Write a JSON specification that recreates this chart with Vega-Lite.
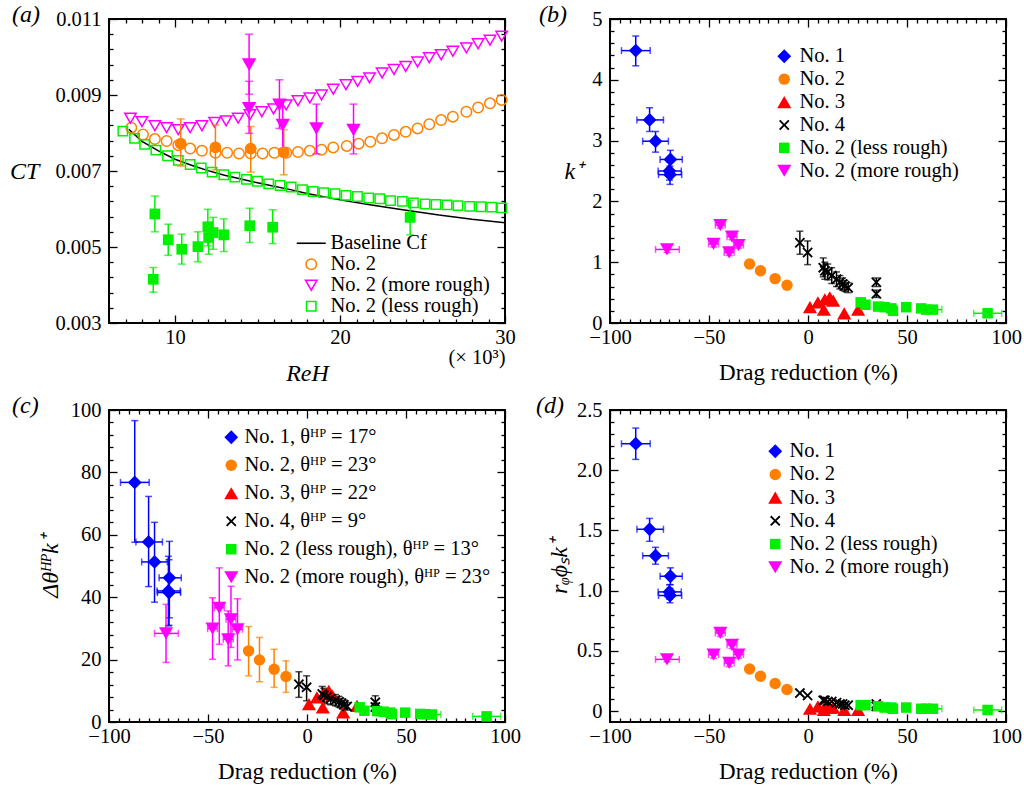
{
"$schema": "https://vega.github.io/schema/vega-lite/v6.json",
"background": "white",
"padding": {"left": 8, "top": 2, "right": 5, "bottom": 0},
"columns": 2,
"spacing": {"row": 79, "column": 105},
"bounds": "flush",
"align": "all",
"resolve": {"scale": {"x": "independent", "y": "independent", "color": "independent", "shape": "independent", "size": "independent"}, "axis": {"x": "independent", "y": "independent"}, "legend": {"color": "independent", "shape": "independent", "size": "independent"}},
"config": {
  "font": "Liberation Serif",
  "view": {"stroke": "black", "strokeWidth": 2},
  "axis": {"labelFont": "Liberation Serif", "labelFontSize": 20.5, "labelColor": "black", "titleFont": "Liberation Serif", "titleFontSize": 23, "titleFontWeight": "normal", "titleColor": "black", "domain": false, "grid": false, "tickColor": "black", "tickWidth": 1.3, "labelFlush": false, "labelOverlap": false, "labelBound": false},
  "legend": {"labelFont": "Liberation Serif", "labelFontSize": 20.5, "labelColor": "black", "symbolSize": 150, "labelLimit": 500},
  "title": {"font": "Liberation Serif", "fontSize": 24, "fontStyle": "italic", "fontWeight": "normal", "color": "black", "anchor": "start", "frame": "group", "offset": 0}
},
"datasets": {
  "cfline": [
    {"x": 7.2, "y": 0.0081}, {"x": 8, "y": 0.00778}, {"x": 9, "y": 0.00753}, {"x": 10, "y": 0.00731}, {"x": 11, "y": 0.00715}, {"x": 12, "y": 0.00701}, {"x": 13, "y": 0.00689}, {"x": 14, "y": 0.00679}, {"x": 15, "y": 0.00669}, {"x": 16, "y": 0.0066}, {"x": 17, "y": 0.00651}, {"x": 18, "y": 0.00641}, {"x": 19, "y": 0.00632}, {"x": 20, "y": 0.00624}, {"x": 22, "y": 0.0061}, {"x": 24, "y": 0.00597}, {"x": 26, "y": 0.00584}, {"x": 28, "y": 0.00573}, {"x": 30, "y": 0.00564}
  ],
  "simA": [
    {"s": "No. 2", "x": 7.35, "y": 0.00814}, {"s": "No. 2", "x": 8.06, "y": 0.00796}, {"s": "No. 2", "x": 8.78, "y": 0.00784}, {"s": "No. 2", "x": 9.49, "y": 0.00779}, {"s": "No. 2", "x": 10.2, "y": 0.00768}, {"s": "No. 2", "x": 10.92, "y": 0.00759}, {"s": "No. 2", "x": 11.63, "y": 0.00753}, {"s": "No. 2", "x": 12.45, "y": 0.00748}, {"s": "No. 2", "x": 13.16, "y": 0.00748}, {"s": "No. 2", "x": 13.88, "y": 0.00746}, {"s": "No. 2", "x": 14.59, "y": 0.00746}, {"s": "No. 2", "x": 15.31, "y": 0.00746}, {"s": "No. 2", "x": 16.02, "y": 0.00748}, {"s": "No. 2", "x": 16.74, "y": 0.00748}, {"s": "No. 2", "x": 17.45, "y": 0.0075}, {"s": "No. 2", "x": 18.17, "y": 0.00753}, {"s": "No. 2", "x": 18.88, "y": 0.00756}, {"s": "No. 2", "x": 19.59, "y": 0.00762}, {"s": "No. 2", "x": 20.41, "y": 0.00766}, {"s": "No. 2", "x": 21.13, "y": 0.00772}, {"s": "No. 2", "x": 21.84, "y": 0.00777}, {"s": "No. 2", "x": 22.55, "y": 0.00786}, {"s": "No. 2", "x": 23.27, "y": 0.00795}, {"s": "No. 2", "x": 23.98, "y": 0.00803}, {"s": "No. 2", "x": 24.7, "y": 0.00812}, {"s": "No. 2", "x": 25.41, "y": 0.00823}, {"s": "No. 2", "x": 26.13, "y": 0.00834}, {"s": "No. 2", "x": 26.84, "y": 0.00843}, {"s": "No. 2", "x": 27.66, "y": 0.00856}, {"s": "No. 2", "x": 28.37, "y": 0.00867}, {"s": "No. 2", "x": 29.09, "y": 0.00878}, {"s": "No. 2", "x": 29.8, "y": 0.00887},
    {"s": "No. 2 (more rough)", "x": 7.3, "y": 0.00839}, {"s": "No. 2 (more rough)", "x": 8.0, "y": 0.0083}, {"s": "No. 2 (more rough)", "x": 8.78, "y": 0.00819}, {"s": "No. 2 (more rough)", "x": 9.49, "y": 0.00814}, {"s": "No. 2 (more rough)", "x": 10.2, "y": 0.00809}, {"s": "No. 2 (more rough)", "x": 10.92, "y": 0.00814}, {"s": "No. 2 (more rough)", "x": 11.63, "y": 0.00819}, {"s": "No. 2 (more rough)", "x": 12.4, "y": 0.00828}, {"s": "No. 2 (more rough)", "x": 13.1, "y": 0.00832}, {"s": "No. 2 (more rough)", "x": 13.83, "y": 0.00839}, {"s": "No. 2 (more rough)", "x": 14.54, "y": 0.00848}, {"s": "No. 2 (more rough)", "x": 15.26, "y": 0.00856}, {"s": "No. 2 (more rough)", "x": 15.97, "y": 0.00863}, {"s": "No. 2 (more rough)", "x": 16.74, "y": 0.00874}, {"s": "No. 2 (more rough)", "x": 17.45, "y": 0.00885}, {"s": "No. 2 (more rough)", "x": 18.17, "y": 0.00892}, {"s": "No. 2 (more rough)", "x": 18.88, "y": 0.009}, {"s": "No. 2 (more rough)", "x": 19.59, "y": 0.00915}, {"s": "No. 2 (more rough)", "x": 20.36, "y": 0.00927}, {"s": "No. 2 (more rough)", "x": 21.07, "y": 0.00936}, {"s": "No. 2 (more rough)", "x": 21.79, "y": 0.00945}, {"s": "No. 2 (more rough)", "x": 22.55, "y": 0.00958}, {"s": "No. 2 (more rough)", "x": 23.27, "y": 0.00967}, {"s": "No. 2 (more rough)", "x": 23.98, "y": 0.00975}, {"s": "No. 2 (more rough)", "x": 24.7, "y": 0.00987}, {"s": "No. 2 (more rough)", "x": 25.41, "y": 0.00998}, {"s": "No. 2 (more rough)", "x": 26.13, "y": 0.01006}, {"s": "No. 2 (more rough)", "x": 26.84, "y": 0.01015}, {"s": "No. 2 (more rough)", "x": 27.66, "y": 0.01024}, {"s": "No. 2 (more rough)", "x": 28.37, "y": 0.01035}, {"s": "No. 2 (more rough)", "x": 29.09, "y": 0.01044}, {"s": "No. 2 (more rough)", "x": 29.8, "y": 0.01055},
    {"s": "No. 2 (less rough)", "x": 6.84, "y": 0.00805}, {"s": "No. 2 (less rough)", "x": 7.55, "y": 0.00786}, {"s": "No. 2 (less rough)", "x": 8.16, "y": 0.0077}, {"s": "No. 2 (less rough)", "x": 8.84, "y": 0.00755}, {"s": "No. 2 (less rough)", "x": 9.55, "y": 0.0074}, {"s": "No. 2 (less rough)", "x": 10.2, "y": 0.00728}, {"s": "No. 2 (less rough)", "x": 10.92, "y": 0.00717}, {"s": "No. 2 (less rough)", "x": 11.59, "y": 0.00708}, {"s": "No. 2 (less rough)", "x": 12.25, "y": 0.00697}, {"s": "No. 2 (less rough)", "x": 12.96, "y": 0.0069}, {"s": "No. 2 (less rough)", "x": 13.63, "y": 0.00684}, {"s": "No. 2 (less rough)", "x": 14.33, "y": 0.00678}, {"s": "No. 2 (less rough)", "x": 15.0, "y": 0.00673}, {"s": "No. 2 (less rough)", "x": 15.68, "y": 0.00666}, {"s": "No. 2 (less rough)", "x": 16.37, "y": 0.00662}, {"s": "No. 2 (less rough)", "x": 17.04, "y": 0.00658}, {"s": "No. 2 (less rough)", "x": 17.72, "y": 0.00651}, {"s": "No. 2 (less rough)", "x": 18.37, "y": 0.00646}, {"s": "No. 2 (less rough)", "x": 19.02, "y": 0.00643}, {"s": "No. 2 (less rough)", "x": 19.7, "y": 0.0064}, {"s": "No. 2 (less rough)", "x": 20.37, "y": 0.00636}, {"s": "No. 2 (less rough)", "x": 21.06, "y": 0.00633}, {"s": "No. 2 (less rough)", "x": 21.74, "y": 0.00629}, {"s": "No. 2 (less rough)", "x": 22.41, "y": 0.00627}, {"s": "No. 2 (less rough)", "x": 23.06, "y": 0.00622}, {"s": "No. 2 (less rough)", "x": 23.78, "y": 0.0062}, {"s": "No. 2 (less rough)", "x": 24.45, "y": 0.00616}, {"s": "No. 2 (less rough)", "x": 25.15, "y": 0.00613}, {"s": "No. 2 (less rough)", "x": 25.82, "y": 0.00612}, {"s": "No. 2 (less rough)", "x": 26.49, "y": 0.00611}, {"s": "No. 2 (less rough)", "x": 27.15, "y": 0.00609}, {"s": "No. 2 (less rough)", "x": 27.86, "y": 0.00607}, {"s": "No. 2 (less rough)", "x": 28.54, "y": 0.00606}, {"s": "No. 2 (less rough)", "x": 29.19, "y": 0.00605}, {"s": "No. 2 (less rough)", "x": 29.8, "y": 0.00603}
  ],
  "expA": [
    {"s": "No. 2", "x": 10.35, "y": 0.00772, "lo": 0.00713, "hi": 0.00837}, {"s": "No. 2", "x": 12.45, "y": 0.00762, "lo": 0.00703, "hi": 0.00821}, {"s": "No. 2", "x": 14.59, "y": 0.00759, "lo": 0.00697, "hi": 0.00817}, {"s": "No. 2", "x": 16.59, "y": 0.00749, "lo": 0.0069, "hi": 0.00809},
    {"s": "No. 2 (more rough)", "x": 14.49, "y": 0.0098, "lo": 0.00902, "hi": 0.0106}, {"s": "No. 2 (more rough)", "x": 14.49, "y": 0.00865, "lo": 0.00799, "hi": 0.00936}, {"s": "No. 2 (more rough)", "x": 16.33, "y": 0.00874, "lo": 0.00812, "hi": 0.0094}, {"s": "No. 2 (more rough)", "x": 16.53, "y": 0.00821, "lo": 0.00759, "hi": 0.00887}, {"s": "No. 2 (more rough)", "x": 18.57, "y": 0.00812, "lo": 0.00745, "hi": 0.00876}, {"s": "No. 2 (more rough)", "x": 20.82, "y": 0.00808, "lo": 0.00745, "hi": 0.00876},
    {"s": "No. 2 (less rough)", "x": 8.78, "y": 0.00587, "lo": 0.0054, "hi": 0.00634}, {"s": "No. 2 (less rough)", "x": 8.68, "y": 0.00415, "lo": 0.00381, "hi": 0.00446}, {"s": "No. 2 (less rough)", "x": 9.59, "y": 0.00519, "lo": 0.00478, "hi": 0.0056}, {"s": "No. 2 (less rough)", "x": 10.41, "y": 0.00494, "lo": 0.00455, "hi": 0.00534}, {"s": "No. 2 (less rough)", "x": 11.39, "y": 0.00501, "lo": 0.00461, "hi": 0.0054}, {"s": "No. 2 (less rough)", "x": 11.99, "y": 0.00553, "lo": 0.00503, "hi": 0.00599}, {"s": "No. 2 (less rough)", "x": 12.04, "y": 0.00525, "lo": 0.00481, "hi": 0.00565}, {"s": "No. 2 (less rough)", "x": 12.31, "y": 0.00538, "lo": 0.00494, "hi": 0.00578}, {"s": "No. 2 (less rough)", "x": 12.96, "y": 0.00532, "lo": 0.00488, "hi": 0.00574}, {"s": "No. 2 (less rough)", "x": 14.53, "y": 0.00556, "lo": 0.00512, "hi": 0.00602}, {"s": "No. 2 (less rough)", "x": 15.92, "y": 0.00552, "lo": 0.00509, "hi": 0.00598}, {"s": "No. 2 (less rough)", "x": 24.25, "y": 0.00578, "lo": 0.00532, "hi": 0.00622}
  ],
  "exp": [
    {"s": "No. 1", "dr": -87, "dl": -94.2, "dh": -79.7, "k": 4.48, "kl": 4.23, "kh": 4.72, "t": 76.8, "tl": 57.6, "th": 96.6, "r": 2.22, "rl": 2.09, "rh": 2.35},
    {"s": "No. 1", "dr": -80, "dl": -86.4, "dh": -73, "k": 3.34, "kl": 3.15, "kh": 3.54, "t": 57.7, "tl": 43.4, "th": 72.3, "r": 1.51, "rl": 1.41, "rh": 1.6},
    {"s": "No. 1", "dr": -77, "dl": -83.5, "dh": -70.5, "k": 2.99, "kl": 2.81, "kh": 3.15, "t": 51.3, "tl": 38.4, "th": 64, "r": 1.29, "rl": 1.22, "rh": 1.36},
    {"s": "No. 1", "dr": -69.5, "dl": -74.7, "dh": -63.5, "k": 2.69, "kl": 2.52, "kh": 2.84, "t": 46.2, "tl": 33.4, "th": 57.9, "r": 1.12, "rl": 1.05, "rh": 1.19},
    {"s": "No. 1", "dr": -70, "dl": -75.7, "dh": -64, "k": 2.5, "kl": 2.35, "kh": 2.65, "t": 42, "tl": 30.8, "th": 53.1, "r": 0.99, "rl": 0.93, "rh": 1.05},
    {"s": "No. 1", "dr": -69.7, "dl": -75.5, "dh": -63.8, "k": 2.44, "kl": 2.28, "kh": 2.58, "t": 41.5, "tl": 31, "th": 52, "r": 0.96, "rl": 0.9, "rh": 1.02},
    {"s": "No. 2", "dr": -29.5, "k": 0.97, "kl": 0.91, "kh": 1.04, "t": 22.8, "tl": 14.8, "th": 30.6, "r": 0.35},
    {"s": "No. 2", "dr": -24, "k": 0.86, "kl": 0.81, "kh": 0.91, "t": 19.9, "tl": 12.9, "th": 27.1, "r": 0.29},
    {"s": "No. 2", "dr": -16.6, "k": 0.73, "kl": 0.69, "kh": 0.77, "t": 16.9, "tl": 11.1, "th": 23.3, "r": 0.23},
    {"s": "No. 2", "dr": -10.6, "k": 0.62, "kl": 0.59, "kh": 0.66, "t": 14.6, "tl": 9.5, "th": 19.6, "r": 0.18},
    {"s": "No. 3", "dr": 1, "k": 0.26, "t": 5.7, "r": 0.02},
    {"s": "No. 3", "dr": 5, "k": 0.34, "t": 7.9, "r": 0.04},
    {"s": "No. 3", "dr": 8, "k": 0.22, "t": 4.7, "r": 0.01},
    {"s": "No. 3", "dr": 8.5, "k": 0.39, "t": 9, "r": 0.04},
    {"s": "No. 3", "dr": 11, "k": 0.42, "t": 10, "r": 0.03},
    {"s": "No. 3", "dr": 12.7, "k": 0.37, "t": 8.5, "r": 0.03},
    {"s": "No. 3", "dr": 18.3, "k": 0.16, "t": 3.1, "r": 0.01},
    {"s": "No. 3", "dr": 25.3, "k": 0.22, "t": 5.2, "r": 0.01},
    {"s": "No. 4", "dr": -4.1, "k": 1.32, "kl": 1.13, "kh": 1.51, "t": 12.1, "tl": 7.9, "th": 16.1, "r": 0.15},
    {"s": "No. 4", "dr": -0.2, "k": 1.16, "kl": 0.96, "kh": 1.35, "t": 11.1, "tl": 6.8, "th": 14.8, "r": 0.13},
    {"s": "No. 4", "dr": 7.7, "k": 0.91, "kl": 0.76, "kh": 1.07, "t": 9, "tl": 6.6, "th": 11.4, "r": 0.09},
    {"s": "No. 4", "dr": 8.5, "k": 0.86, "kl": 0.72, "kh": 1, "t": 8.5, "tl": 6.2, "th": 10.8, "r": 0.09},
    {"s": "No. 4", "dr": 10, "k": 0.84, "kl": 0.71, "kh": 0.97, "t": 8, "tl": 5.8, "th": 10.2, "r": 0.08},
    {"s": "No. 4", "dr": 12, "k": 0.78, "kl": 0.65, "kh": 0.91, "t": 7.5, "tl": 5.5, "th": 9.5, "r": 0.08},
    {"s": "No. 4", "dr": 14.4, "k": 0.72, "kl": 0.6, "kh": 0.84, "t": 7, "tl": 5.2, "th": 8.8, "r": 0.07},
    {"s": "No. 4", "dr": 16.1, "k": 0.67, "kl": 0.56, "kh": 0.78, "t": 6.5, "tl": 4.8, "th": 8.2, "r": 0.06},
    {"s": "No. 4", "dr": 17.5, "k": 0.64, "kl": 0.54, "kh": 0.74, "t": 6, "tl": 4.5, "th": 7.5, "r": 0.06},
    {"s": "No. 4", "dr": 18.6, "k": 0.61, "kl": 0.52, "kh": 0.7, "t": 5.5, "tl": 4.1, "th": 6.9, "r": 0.05},
    {"s": "No. 4", "dr": 20.3, "k": 0.58, "kl": 0.5, "kh": 0.66, "t": 5, "tl": 3.8, "th": 6.2, "r": 0.05},
    {"s": "No. 4", "dr": 34.5, "k": 0.67, "kl": 0.6, "kh": 0.74, "t": 6.3, "tl": 4.2, "th": 8.4, "r": 0.06},
    {"s": "No. 4", "dr": 34.5, "k": 0.48, "kl": 0.42, "kh": 0.54, "t": 4.8, "tl": 3.6, "th": 6, "r": 0.04},
    {"s": "No. 2 (less rough)", "dr": 26.6, "k": 0.34, "t": 4.7, "r": 0.05},
    {"s": "No. 2 (less rough)", "dr": 29, "k": 0.3, "t": 3.6, "r": 0.05},
    {"s": "No. 2 (less rough)", "dr": 35.4, "k": 0.27, "t": 3.5, "r": 0.04},
    {"s": "No. 2 (less rough)", "dr": 38.7, "k": 0.26, "t": 3.3, "r": 0.03},
    {"s": "No. 2 (less rough)", "dr": 42.1, "k": 0.24, "t": 3, "r": 0.03},
    {"s": "No. 2 (less rough)", "dr": 42.9, "k": 0.2, "t": 2.5, "r": 0.02},
    {"s": "No. 2 (less rough)", "dr": 49.6, "k": 0.26, "t": 3, "r": 0.03},
    {"s": "No. 2 (less rough)", "dr": 57.2, "k": 0.24, "t": 2.6, "r": 0.02},
    {"s": "No. 2 (less rough)", "dr": 59.7, "k": 0.22, "t": 2.5, "r": 0.02},
    {"s": "No. 2 (less rough)", "dr": 63.1, "dl": 58.5, "dh": 67.6, "k": 0.22, "t": 2.4, "r": 0.02},
    {"s": "No. 2 (less rough)", "dr": 90.7, "dl": 83.7, "dh": 97.8, "k": 0.16, "t": 1.8, "r": 0.01},
    {"s": "No. 2 (more rough)", "dr": -71.2, "dl": -77, "dh": -65, "k": 1.21, "kl": 1.16, "kh": 1.26, "t": 28.4, "tl": 19.1, "th": 37.7, "r": 0.43, "rl": 0.41, "rh": 0.45},
    {"s": "No. 2 (more rough)", "dr": -47.7, "dl": -50.2, "dh": -45.2, "k": 1.3, "kl": 1.25, "kh": 1.35, "t": 29.9, "tl": 20.1, "th": 39.8, "r": 0.47, "rl": 0.44, "rh": 0.5},
    {"s": "No. 2 (more rough)", "dr": -44.3, "dl": -46.8, "dh": -41.8, "k": 1.61, "kl": 1.56, "kh": 1.66, "t": 36.6, "tl": 24.9, "th": 49.4, "r": 0.65, "rl": 0.62, "rh": 0.68},
    {"s": "No. 2 (more rough)", "dr": -38.4, "dl": -40.9, "dh": -35.9, "k": 1.42, "kl": 1.37, "kh": 1.47, "t": 32.9, "tl": 23.9, "th": 43.5, "r": 0.55, "rl": 0.52, "rh": 0.58},
    {"s": "No. 2 (more rough)", "dr": -35.1, "dl": -37.6, "dh": -32.6, "k": 1.28, "kl": 1.23, "kh": 1.33, "t": 29.7, "tl": 19.9, "th": 39.5, "r": 0.47, "rl": 0.44, "rh": 0.5},
    {"s": "No. 2 (more rough)", "dr": -39.8, "dl": -42.3, "dh": -37.3, "k": 1.16, "kl": 1.11, "kh": 1.21, "t": 26.5, "tl": 18, "th": 35.6, "r": 0.4, "rl": 0.37, "rh": 0.43}
  ]
},
"concat": [
{
  "width": 396, "height": 304,
  "title": {"text": "(a)", "dx": -97, "dy": 22},
  "resolve": {"axis": {"x": "independent", "y": "independent"}},
  "layer": [
    {"data": {"name": "cfline"}, "mark": {"type": "line", "color": "black", "strokeWidth": 1.5},
     "encoding": {"x": {"field": "x", "type": "quantitative", "scale": {"domain": [6, 30], "nice": false, "zero": false}, "axis": null},
                  "y": {"field": "y", "type": "quantitative", "scale": {"domain": [0.003, 0.011], "nice": false, "zero": false}, "axis": null}}},
    {"data": {"name": "simA"}, "mark": {"type": "point", "filled": false, "strokeWidth": 1.5, "opacity": 1},
     "encoding": {
       "x": {"field": "x", "type": "quantitative", "scale": {"domain": [6, 30], "nice": false, "zero": false},
             "axis": {"orient": "bottom", "values": [6,7,8,9,10,11,12,13,14,15,16,17,18,19,20,21,22,23,24,25,26,27,28,29,30], "tickSize": {"condition": {"test": "datum.value % 10 === 0", "value": -8}, "value": -4}, "labelExpr": "datum.value % 10 === 0 ? format(datum.value, 'd') : ''", "labelPadding": 12, "title": "(× 10³)", "titleAnchor": "end", "titleFontSize": 20.5, "titlePadding": -4}},
       "y": {"field": "y", "type": "quantitative", "scale": {"domain": [0.003, 0.011], "nice": false, "zero": false},
             "axis": {"orient": "left", "values": [0.003,0.0034,0.0038,0.0042,0.0046,0.005,0.0054,0.0058,0.0062,0.0066,0.007,0.0074,0.0078,0.0082,0.0086,0.009,0.0094,0.0098,0.0102,0.0106,0.011], "tickSize": {"condition": {"test": "abs((datum.value*1000-1)/2 - round((datum.value*1000-1)/2)) < 0.01", "value": -8}, "value": -4}, "labelExpr": "abs((datum.value*1000-1)/2 - round((datum.value*1000-1)/2)) < 0.01 ? format(datum.value, '.3f') : ''", "labelPadding": 16, "title": "CT", "titleAngle": 0, "titleAlign": "right", "titleBaseline": "middle", "titlePadding": 16, "titleFontStyle": "italic", "titleFontSize": 24}},
       "color": {"field": "s", "type": "nominal", "scale": {"domain": ["Baseline Cf", "No. 2", "No. 2 (more rough)", "No. 2 (less rough)"], "range": ["#000000", "#ff8000", "#ff00ff", "#00f000"]},
                 "legend": {"orient": "none", "legendX": 192, "legendY": 214, "direction": "vertical", "title": null, "labelOffset": 9, "rowPadding": 0, "symbolSize": 100, "symbolStrokeWidth": 1.6, "labelLimit": 500}},
       "shape": {"field": "s", "type": "nominal", "scale": {"domain": ["Baseline Cf", "No. 2", "No. 2 (more rough)", "No. 2 (less rough)"], "range": ["M-2.9,0L2.9,0", "circle", "triangle-down", "square"]},
                 "legend": {"orient": "none", "legendX": 192, "legendY": 214, "direction": "vertical", "title": null, "labelOffset": 9, "rowPadding": 0, "symbolSize": 100, "symbolStrokeWidth": 1.6, "labelLimit": 500}},
       "size": {"field": "s", "type": "nominal", "scale": {"type": "ordinal", "domain": ["Baseline Cf", "No. 2", "No. 2 (more rough)", "No. 2 (less rough)"], "range": [100, 110, 130, 88]}, "legend": null}
     }},
    {"data": {"name": "expA"}, "transform": [{"filter": "datum.s === 'No. 2'"}], "mark": {"type": "errorbar", "orient": "vertical", "ticks": true, "size": 8, "thickness": 1.5, "color": "#ff8000"},
     "encoding": {"x": {"field": "x", "type": "quantitative", "scale": {"domain": [6, 30], "nice": false, "zero": false}, "axis": null},
                  "y": {"field": "lo", "type": "quantitative", "scale": {"domain": [0.003, 0.011], "nice": false, "zero": false}, "axis": null}, "y2": {"field": "hi"}}},
    {"data": {"name": "expA"}, "transform": [{"filter": "datum.s === 'No. 2 (more rough)'"}], "mark": {"type": "errorbar", "orient": "vertical", "ticks": true, "size": 8, "thickness": 1.5, "color": "#ff00ff"},
     "encoding": {"x": {"field": "x", "type": "quantitative", "scale": {"domain": [6, 30], "nice": false, "zero": false}, "axis": null},
                  "y": {"field": "lo", "type": "quantitative", "scale": {"domain": [0.003, 0.011], "nice": false, "zero": false}, "axis": null}, "y2": {"field": "hi"}}},
    {"data": {"name": "expA"}, "transform": [{"filter": "datum.s === 'No. 2 (less rough)'"}], "mark": {"type": "errorbar", "orient": "vertical", "ticks": true, "size": 8, "thickness": 1.5, "color": "#00f000"},
     "encoding": {"x": {"field": "x", "type": "quantitative", "scale": {"domain": [6, 30], "nice": false, "zero": false}, "axis": null},
                  "y": {"field": "lo", "type": "quantitative", "scale": {"domain": [0.003, 0.011], "nice": false, "zero": false}, "axis": null}, "y2": {"field": "hi"}}},
    {"data": {"name": "expA"}, "transform": [{"filter": "datum.s === 'No. 2'"}], "mark": {"type": "point", "shape": "circle", "filled": true, "opacity": 1, "color": "#ff8000", "size": 140},
     "encoding": {"x": {"field": "x", "type": "quantitative", "scale": {"domain": [6, 30], "nice": false, "zero": false}, "axis": null},
                  "y": {"field": "y", "type": "quantitative", "scale": {"domain": [0.003, 0.011], "nice": false, "zero": false}, "axis": null}}},
    {"data": {"name": "expA"}, "transform": [{"filter": "datum.s === 'No. 2 (more rough)'"}], "mark": {"type": "point", "shape": "triangle-down", "filled": true, "opacity": 1, "color": "#ff00ff", "size": 210},
     "encoding": {"x": {"field": "x", "type": "quantitative", "scale": {"domain": [6, 30], "nice": false, "zero": false}, "axis": null},
                  "y": {"field": "y", "type": "quantitative", "scale": {"domain": [0.003, 0.011], "nice": false, "zero": false}, "axis": null}}},
    {"data": {"name": "expA"}, "transform": [{"filter": "datum.s === 'No. 2 (less rough)'"}], "mark": {"type": "point", "shape": "square", "filled": true, "opacity": 1, "color": "#00f000", "size": 115},
     "encoding": {"x": {"field": "x", "type": "quantitative", "scale": {"domain": [6, 30], "nice": false, "zero": false}, "axis": null},
                  "y": {"field": "y", "type": "quantitative", "scale": {"domain": [0.003, 0.011], "nice": false, "zero": false}, "axis": null}}},
    {"data": {"name": "cfline"}, "mark": {"type": "point", "opacity": 0},
     "encoding": {
       "x": {"field": "x", "type": "quantitative", "scale": {"domain": [6, 30], "nice": false, "zero": false},
             "axis": {"orient": "top", "values": [6,7,8,9,10,11,12,13,14,15,16,17,18,19,20,21,22,23,24,25,26,27,28,29,30], "tickSize": {"condition": {"test": "datum.value % 10 === 0", "value": -8}, "value": -4}, "labels": false, "title": null}},
       "y": {"field": "y", "type": "quantitative", "scale": {"domain": [0.003, 0.011], "nice": false, "zero": false},
             "axis": {"orient": "right", "values": [0.003,0.0034,0.0038,0.0042,0.0046,0.005,0.0054,0.0058,0.0062,0.0066,0.007,0.0074,0.0078,0.0082,0.0086,0.009,0.0094,0.0098,0.0102,0.0106,0.011], "tickSize": {"condition": {"test": "abs((datum.value*1000-1)/2 - round((datum.value*1000-1)/2)) < 0.01", "value": -8}, "value": -4}, "labels": false, "title": null}}
     }},
    {"data": {"name": "cfline"}, "mark": {"type": "point", "opacity": 0},
     "encoding": {
       "x": {"field": "x", "type": "quantitative", "scale": {"domain": [6, 30], "nice": false, "zero": false},
             "axis": {"orient": "bottom", "ticks": false, "labels": false, "domain": false, "title": "ReH", "titleFontStyle": "italic", "titleFontSize": 24, "titlePadding": 38}}
     }}
  ]
},
{
  "width": 396, "height": 304,
  "title": {"text": "(b)", "dx": -71, "dy": 22},
  "resolve": {"axis": {"x": "independent", "y": "independent"}},
  "layer": [
    {"data": {"name": "exp"}, "transform": [{"filter": "isValid(datum.dl)"}], "mark": {"type": "errorbar", "orient": "horizontal", "ticks": true, "size": 7, "thickness": 1.5},
     "encoding": {
       "x": {"field": "dl", "type": "quantitative", "scale": {"domain": [-100, 100], "nice": false, "zero": false}, "axis": null},
       "x2": {"field": "dh"},
       "y": {"field": "k", "type": "quantitative", "scale": {"domain": [0, 5], "nice": false, "zero": false}, "axis": null},
       "color": {"field": "s", "type": "nominal", "scale": {"domain": ["No. 1", "No. 2", "No. 3", "No. 4", "No. 2 (less rough)", "No. 2 (more rough)"], "range": ["#0000ff", "#ff8000", "#ff0000", "#000000", "#00f000", "#ff00ff"]},
                 "legend": {"orient": "none", "legendX": 164, "legendY": 27, "direction": "vertical", "title": null, "labelOffset": 5, "rowPadding": 1.9, "symbolSize": 150, "labelLimit": 500, "encode": {"symbols": {"update": {"opacity": {"value": 1}, "strokeWidth": {"value": 0}, "fill": {"signal": "datum.value === 'No. 1' ? '#0000ff' : datum.value === 'No. 2' ? '#ff8000' : datum.value === 'No. 3' ? '#ff0000' : datum.value === 'No. 4' ? '#000000' : datum.value === 'No. 2 (less rough)' ? '#00f000' : '#ff00ff'"}}}}}}
     }},
    {"data": {"name": "exp"}, "transform": [{"filter": "isValid(datum.kl)"}], "mark": {"type": "errorbar", "orient": "vertical", "ticks": true, "size": 7, "thickness": 1.5},
     "encoding": {
       "x": {"field": "dr", "type": "quantitative", "scale": {"domain": [-100, 100], "nice": false, "zero": false}, "axis": null},
       "y": {"field": "kl", "type": "quantitative", "scale": {"domain": [0, 5], "nice": false, "zero": false}, "axis": null},
       "y2": {"field": "kh"},
       "color": {"field": "s", "type": "nominal", "scale": {"domain": ["No. 1", "No. 2", "No. 3", "No. 4", "No. 2 (less rough)", "No. 2 (more rough)"], "range": ["#0000ff", "#ff8000", "#ff0000", "#000000", "#00f000", "#ff00ff"]},
                 "legend": {"orient": "none", "legendX": 164, "legendY": 27, "direction": "vertical", "title": null, "labelOffset": 5, "rowPadding": 1.9, "symbolSize": 150, "labelLimit": 500, "encode": {"symbols": {"update": {"opacity": {"value": 1}, "strokeWidth": {"value": 0}, "fill": {"signal": "datum.value === 'No. 1' ? '#0000ff' : datum.value === 'No. 2' ? '#ff8000' : datum.value === 'No. 3' ? '#ff0000' : datum.value === 'No. 4' ? '#000000' : datum.value === 'No. 2 (less rough)' ? '#00f000' : '#ff00ff'"}}}}}}
     }},
    {"data": {"name": "exp"}, "mark": {"type": "point", "filled": true, "opacity": 1},
     "encoding": {
       "x": {"field": "dr", "type": "quantitative", "scale": {"domain": [-100, 100], "nice": false, "zero": false},
             "axis": {"orient": "bottom", "values": [-100,-95,-90,-85,-80,-75,-70,-65,-60,-55,-50,-45,-40,-35,-30,-25,-20,-15,-10,-5,0,5,10,15,20,25,30,35,40,45,50,55,60,65,70,75,80,85,90,95,100], "tickSize": {"condition": {"test": "datum.value % 50 === 0", "value": -8}, "value": -4}, "labelExpr": "datum.value % 50 === 0 ? format(datum.value, 'd') : ''", "labelPadding": 12, "title": "Drag reduction (%)", "titlePadding": 10}},
       "y": {"field": "k", "type": "quantitative", "scale": {"domain": [0, 5], "nice": false, "zero": false},
             "axis": {"orient": "left", "values": [0,0.2,0.4,0.6,0.8,1,1.2,1.4,1.6,1.8,2,2.2,2.4,2.6,2.8,3,3.2,3.4,3.6,3.8,4,4.2,4.4,4.6,4.8,5], "tickSize": {"condition": {"test": "abs(datum.value - round(datum.value)) < 0.001", "value": -8}, "value": -4}, "labelExpr": "abs(datum.value - round(datum.value)) < 0.001 ? format(datum.value, 'd') : ''", "labelPadding": 16, "title": "k⁺", "titleAngle": 0, "titleAlign": "right", "titleBaseline": "middle", "titlePadding": 9, "titleFontStyle": "italic", "titleFontSize": 24}},
       "color": {"field": "s", "type": "nominal", "scale": {"domain": ["No. 1", "No. 2", "No. 3", "No. 4", "No. 2 (less rough)", "No. 2 (more rough)"], "range": ["#0000ff", "#ff8000", "#ff0000", "#000000", "#00f000", "#ff00ff"]},
                 "legend": {"orient": "none", "legendX": 164, "legendY": 27, "direction": "vertical", "title": null, "labelOffset": 5, "rowPadding": 1.9, "symbolSize": 150, "labelLimit": 500, "encode": {"symbols": {"update": {"opacity": {"value": 1}, "strokeWidth": {"value": 0}, "fill": {"signal": "datum.value === 'No. 1' ? '#0000ff' : datum.value === 'No. 2' ? '#ff8000' : datum.value === 'No. 3' ? '#ff0000' : datum.value === 'No. 4' ? '#000000' : datum.value === 'No. 2 (less rough)' ? '#00f000' : '#ff00ff'"}}}}}},
       "shape": {"field": "s", "type": "nominal", "scale": {"domain": ["No. 1", "No. 2", "No. 3", "No. 4", "No. 2 (less rough)", "No. 2 (more rough)"], "range": ["diamond", "circle", "triangle-up", "M-1,-0.75L-0.75,-1L0,-0.25L0.75,-1L1,-0.75L0.25,0L1,0.75L0.75,1L0,0.25L-0.75,1L-1,0.75L-0.25,0Z", "square", "triangle-down"]},
                 "legend": {"orient": "none", "legendX": 164, "legendY": 27, "direction": "vertical", "title": null, "labelOffset": 5, "rowPadding": 1.9, "symbolSize": 150, "labelLimit": 500, "encode": {"symbols": {"update": {"opacity": {"value": 1}, "strokeWidth": {"value": 0}, "fill": {"signal": "datum.value === 'No. 1' ? '#0000ff' : datum.value === 'No. 2' ? '#ff8000' : datum.value === 'No. 3' ? '#ff0000' : datum.value === 'No. 4' ? '#000000' : datum.value === 'No. 2 (less rough)' ? '#00f000' : '#ff00ff'"}}}}}},
       "size": {"field": "s", "type": "nominal", "scale": {"type": "ordinal", "domain": ["No. 1", "No. 2", "No. 3", "No. 4", "No. 2 (less rough)", "No. 2 (more rough)"], "range": [190, 130, 200, 110, 110, 200]}, "legend": null}
     }},
    {"data": {"name": "exp"}, "mark": {"type": "point", "opacity": 0},
     "encoding": {
       "x": {"field": "dr", "type": "quantitative", "scale": {"domain": [-100, 100], "nice": false, "zero": false},
             "axis": {"orient": "top", "values": [-100,-95,-90,-85,-80,-75,-70,-65,-60,-55,-50,-45,-40,-35,-30,-25,-20,-15,-10,-5,0,5,10,15,20,25,30,35,40,45,50,55,60,65,70,75,80,85,90,95,100], "tickSize": {"condition": {"test": "datum.value % 50 === 0", "value": -8}, "value": -4}, "labels": false, "title": null}},
       "y": {"field": "k", "type": "quantitative", "scale": {"domain": [0, 5], "nice": false, "zero": false},
             "axis": {"orient": "right", "values": [0,0.2,0.4,0.6,0.8,1,1.2,1.4,1.6,1.8,2,2.2,2.4,2.6,2.8,3,3.2,3.4,3.6,3.8,4,4.2,4.4,4.6,4.8,5], "tickSize": {"condition": {"test": "abs(datum.value - round(datum.value)) < 0.001", "value": -8}, "value": -4}, "labels": false, "title": null}}
     }}
  ]
},
{
  "width": 396, "height": 312,
  "title": {"text": "(c)", "dx": -97, "dy": 22},
  "resolve": {"axis": {"x": "independent", "y": "independent"}},
  "layer": [
    {"data": {"name": "exp"}, "transform": [{"filter": "isValid(datum.dl)"}], "mark": {"type": "errorbar", "orient": "horizontal", "ticks": true, "size": 7, "thickness": 1.5},
     "encoding": {
       "x": {"field": "dl", "type": "quantitative", "scale": {"domain": [-100, 100], "nice": false, "zero": false}, "axis": null},
       "x2": {"field": "dh"},
       "y": {"field": "t", "type": "quantitative", "scale": {"domain": [0, 100], "nice": false, "zero": false}, "axis": null},
       "color": {"field": "s", "type": "nominal", "scale": {"domain": ["No. 1", "No. 2", "No. 3", "No. 4", "No. 2 (less rough)", "No. 2 (more rough)"], "range": ["#0000ff", "#ff8000", "#ff0000", "#000000", "#00f000", "#ff00ff"]},
                 "legend": {"orient": "none", "legendX": 112, "legendY": 17, "direction": "vertical", "title": null, "labelOffset": 3, "rowPadding": 7, "symbolSize": 150, "labelLimit": 500, "labelExpr": "datum.label === 'No. 1' ? 'No. 1, θᴴᴾ = 17°' : datum.label === 'No. 2' ? 'No. 2, θᴴᴾ = 23°' : datum.label === 'No. 3' ? 'No. 3, θᴴᴾ = 22°' : datum.label === 'No. 4' ? 'No. 4, θᴴᴾ = 9°' : datum.label === 'No. 2 (less rough)' ? 'No. 2 (less rough), θᴴᴾ = 13°' : 'No. 2 (more rough), θᴴᴾ = 23°'", "encode": {"symbols": {"update": {"opacity": {"value": 1}, "strokeWidth": {"value": 0}, "fill": {"signal": "datum.value === 'No. 1' ? '#0000ff' : datum.value === 'No. 2' ? '#ff8000' : datum.value === 'No. 3' ? '#ff0000' : datum.value === 'No. 4' ? '#000000' : datum.value === 'No. 2 (less rough)' ? '#00f000' : '#ff00ff'"}}}}}}
     }},
    {"data": {"name": "exp"}, "transform": [{"filter": "isValid(datum.tl)"}], "mark": {"type": "errorbar", "orient": "vertical", "ticks": true, "size": 7, "thickness": 1.5},
     "encoding": {
       "x": {"field": "dr", "type": "quantitative", "scale": {"domain": [-100, 100], "nice": false, "zero": false}, "axis": null},
       "y": {"field": "tl", "type": "quantitative", "scale": {"domain": [0, 100], "nice": false, "zero": false}, "axis": null},
       "y2": {"field": "th"},
       "color": {"field": "s", "type": "nominal", "scale": {"domain": ["No. 1", "No. 2", "No. 3", "No. 4", "No. 2 (less rough)", "No. 2 (more rough)"], "range": ["#0000ff", "#ff8000", "#ff0000", "#000000", "#00f000", "#ff00ff"]},
                 "legend": {"orient": "none", "legendX": 112, "legendY": 17, "direction": "vertical", "title": null, "labelOffset": 3, "rowPadding": 7, "symbolSize": 150, "labelLimit": 500, "labelExpr": "datum.label === 'No. 1' ? 'No. 1, θᴴᴾ = 17°' : datum.label === 'No. 2' ? 'No. 2, θᴴᴾ = 23°' : datum.label === 'No. 3' ? 'No. 3, θᴴᴾ = 22°' : datum.label === 'No. 4' ? 'No. 4, θᴴᴾ = 9°' : datum.label === 'No. 2 (less rough)' ? 'No. 2 (less rough), θᴴᴾ = 13°' : 'No. 2 (more rough), θᴴᴾ = 23°'", "encode": {"symbols": {"update": {"opacity": {"value": 1}, "strokeWidth": {"value": 0}, "fill": {"signal": "datum.value === 'No. 1' ? '#0000ff' : datum.value === 'No. 2' ? '#ff8000' : datum.value === 'No. 3' ? '#ff0000' : datum.value === 'No. 4' ? '#000000' : datum.value === 'No. 2 (less rough)' ? '#00f000' : '#ff00ff'"}}}}}}
     }},
    {"data": {"name": "exp"}, "mark": {"type": "point", "filled": true, "opacity": 1},
     "encoding": {
       "x": {"field": "dr", "type": "quantitative", "scale": {"domain": [-100, 100], "nice": false, "zero": false},
             "axis": {"orient": "bottom", "values": [-100,-95,-90,-85,-80,-75,-70,-65,-60,-55,-50,-45,-40,-35,-30,-25,-20,-15,-10,-5,0,5,10,15,20,25,30,35,40,45,50,55,60,65,70,75,80,85,90,95,100], "tickSize": {"condition": {"test": "datum.value % 50 === 0", "value": -8}, "value": -4}, "labelExpr": "datum.value % 50 === 0 ? format(datum.value, 'd') : ''", "labelPadding": 12, "title": "Drag reduction (%)", "titlePadding": 10}},
       "y": {"field": "t", "type": "quantitative", "scale": {"domain": [0, 100], "nice": false, "zero": false},
             "axis": {"orient": "left", "values": [0,4,8,12,16,20,24,28,32,36,40,44,48,52,56,60,64,68,72,76,80,84,88,92,96,100], "tickSize": {"condition": {"test": "datum.value % 20 === 0", "value": -8}, "value": -4}, "labelExpr": "datum.value % 20 === 0 ? format(datum.value, 'd') : ''", "labelPadding": 16, "title": "Δθᴴᴾk⁺", "titlePadding": 8, "titleFontStyle": "italic", "titleFontSize": 24}},
       "color": {"field": "s", "type": "nominal", "scale": {"domain": ["No. 1", "No. 2", "No. 3", "No. 4", "No. 2 (less rough)", "No. 2 (more rough)"], "range": ["#0000ff", "#ff8000", "#ff0000", "#000000", "#00f000", "#ff00ff"]},
                 "legend": {"orient": "none", "legendX": 112, "legendY": 17, "direction": "vertical", "title": null, "labelOffset": 3, "rowPadding": 7, "symbolSize": 150, "labelLimit": 500, "labelExpr": "datum.label === 'No. 1' ? 'No. 1, θᴴᴾ = 17°' : datum.label === 'No. 2' ? 'No. 2, θᴴᴾ = 23°' : datum.label === 'No. 3' ? 'No. 3, θᴴᴾ = 22°' : datum.label === 'No. 4' ? 'No. 4, θᴴᴾ = 9°' : datum.label === 'No. 2 (less rough)' ? 'No. 2 (less rough), θᴴᴾ = 13°' : 'No. 2 (more rough), θᴴᴾ = 23°'", "encode": {"symbols": {"update": {"opacity": {"value": 1}, "strokeWidth": {"value": 0}, "fill": {"signal": "datum.value === 'No. 1' ? '#0000ff' : datum.value === 'No. 2' ? '#ff8000' : datum.value === 'No. 3' ? '#ff0000' : datum.value === 'No. 4' ? '#000000' : datum.value === 'No. 2 (less rough)' ? '#00f000' : '#ff00ff'"}}}}}},
       "shape": {"field": "s", "type": "nominal", "scale": {"domain": ["No. 1", "No. 2", "No. 3", "No. 4", "No. 2 (less rough)", "No. 2 (more rough)"], "range": ["diamond", "circle", "triangle-up", "M-1,-0.75L-0.75,-1L0,-0.25L0.75,-1L1,-0.75L0.25,0L1,0.75L0.75,1L0,0.25L-0.75,1L-1,0.75L-0.25,0Z", "square", "triangle-down"]},
                 "legend": {"orient": "none", "legendX": 112, "legendY": 17, "direction": "vertical", "title": null, "labelOffset": 3, "rowPadding": 7, "symbolSize": 150, "labelLimit": 500, "labelExpr": "datum.label === 'No. 1' ? 'No. 1, θᴴᴾ = 17°' : datum.label === 'No. 2' ? 'No. 2, θᴴᴾ = 23°' : datum.label === 'No. 3' ? 'No. 3, θᴴᴾ = 22°' : datum.label === 'No. 4' ? 'No. 4, θᴴᴾ = 9°' : datum.label === 'No. 2 (less rough)' ? 'No. 2 (less rough), θᴴᴾ = 13°' : 'No. 2 (more rough), θᴴᴾ = 23°'", "encode": {"symbols": {"update": {"opacity": {"value": 1}, "strokeWidth": {"value": 0}, "fill": {"signal": "datum.value === 'No. 1' ? '#0000ff' : datum.value === 'No. 2' ? '#ff8000' : datum.value === 'No. 3' ? '#ff0000' : datum.value === 'No. 4' ? '#000000' : datum.value === 'No. 2 (less rough)' ? '#00f000' : '#ff00ff'"}}}}}},
       "size": {"field": "s", "type": "nominal", "scale": {"type": "ordinal", "domain": ["No. 1", "No. 2", "No. 3", "No. 4", "No. 2 (less rough)", "No. 2 (more rough)"], "range": [190, 130, 200, 110, 110, 200]}, "legend": null}
     }},
    {"data": {"name": "exp"}, "mark": {"type": "point", "opacity": 0},
     "encoding": {
       "x": {"field": "dr", "type": "quantitative", "scale": {"domain": [-100, 100], "nice": false, "zero": false},
             "axis": {"orient": "top", "values": [-100,-95,-90,-85,-80,-75,-70,-65,-60,-55,-50,-45,-40,-35,-30,-25,-20,-15,-10,-5,0,5,10,15,20,25,30,35,40,45,50,55,60,65,70,75,80,85,90,95,100], "tickSize": {"condition": {"test": "datum.value % 50 === 0", "value": -8}, "value": -4}, "labels": false, "title": null}},
       "y": {"field": "t", "type": "quantitative", "scale": {"domain": [0, 100], "nice": false, "zero": false},
             "axis": {"orient": "right", "values": [0,4,8,12,16,20,24,28,32,36,40,44,48,52,56,60,64,68,72,76,80,84,88,92,96,100], "tickSize": {"condition": {"test": "datum.value % 20 === 0", "value": -8}, "value": -4}, "labels": false, "title": null}}
     }}
  ]
},
{
  "width": 396, "height": 312,
  "title": {"text": "(d)", "dx": -74, "dy": 22},
  "resolve": {"axis": {"x": "independent", "y": "independent"}},
  "layer": [
    {"data": {"name": "exp"}, "transform": [{"filter": "isValid(datum.dl)"}], "mark": {"type": "errorbar", "orient": "horizontal", "ticks": true, "size": 7, "thickness": 1.5},
     "encoding": {
       "x": {"field": "dl", "type": "quantitative", "scale": {"domain": [-100, 100], "nice": false, "zero": false}, "axis": null},
       "x2": {"field": "dh"},
       "y": {"field": "r", "type": "quantitative", "scale": {"domain": [-0.09, 2.5], "nice": false, "zero": false}, "axis": null},
       "color": {"field": "s", "type": "nominal", "scale": {"domain": ["No. 1", "No. 2", "No. 3", "No. 4", "No. 2 (less rough)", "No. 2 (more rough)"], "range": ["#0000ff", "#ff8000", "#ff0000", "#000000", "#00f000", "#ff00ff"]},
                 "legend": {"orient": "none", "legendX": 155, "legendY": 31, "direction": "vertical", "title": null, "labelOffset": 4, "rowPadding": 2.2, "symbolSize": 150, "labelLimit": 500, "encode": {"symbols": {"update": {"opacity": {"value": 1}, "strokeWidth": {"value": 0}, "fill": {"signal": "datum.value === 'No. 1' ? '#0000ff' : datum.value === 'No. 2' ? '#ff8000' : datum.value === 'No. 3' ? '#ff0000' : datum.value === 'No. 4' ? '#000000' : datum.value === 'No. 2 (less rough)' ? '#00f000' : '#ff00ff'"}}}}}}
     }},
    {"data": {"name": "exp"}, "transform": [{"filter": "isValid(datum.rl)"}], "mark": {"type": "errorbar", "orient": "vertical", "ticks": true, "size": 7, "thickness": 1.5},
     "encoding": {
       "x": {"field": "dr", "type": "quantitative", "scale": {"domain": [-100, 100], "nice": false, "zero": false}, "axis": null},
       "y": {"field": "rl", "type": "quantitative", "scale": {"domain": [-0.09, 2.5], "nice": false, "zero": false}, "axis": null},
       "y2": {"field": "rh"},
       "color": {"field": "s", "type": "nominal", "scale": {"domain": ["No. 1", "No. 2", "No. 3", "No. 4", "No. 2 (less rough)", "No. 2 (more rough)"], "range": ["#0000ff", "#ff8000", "#ff0000", "#000000", "#00f000", "#ff00ff"]},
                 "legend": {"orient": "none", "legendX": 155, "legendY": 31, "direction": "vertical", "title": null, "labelOffset": 4, "rowPadding": 2.2, "symbolSize": 150, "labelLimit": 500, "encode": {"symbols": {"update": {"opacity": {"value": 1}, "strokeWidth": {"value": 0}, "fill": {"signal": "datum.value === 'No. 1' ? '#0000ff' : datum.value === 'No. 2' ? '#ff8000' : datum.value === 'No. 3' ? '#ff0000' : datum.value === 'No. 4' ? '#000000' : datum.value === 'No. 2 (less rough)' ? '#00f000' : '#ff00ff'"}}}}}}
     }},
    {"data": {"name": "exp"}, "mark": {"type": "point", "filled": true, "opacity": 1},
     "encoding": {
       "x": {"field": "dr", "type": "quantitative", "scale": {"domain": [-100, 100], "nice": false, "zero": false},
             "axis": {"orient": "bottom", "values": [-100,-95,-90,-85,-80,-75,-70,-65,-60,-55,-50,-45,-40,-35,-30,-25,-20,-15,-10,-5,0,5,10,15,20,25,30,35,40,45,50,55,60,65,70,75,80,85,90,95,100], "tickSize": {"condition": {"test": "datum.value % 50 === 0", "value": -8}, "value": -4}, "labelExpr": "datum.value % 50 === 0 ? format(datum.value, 'd') : ''", "labelPadding": 12, "title": "Drag reduction (%)", "titlePadding": 10}},
       "y": {"field": "r", "type": "quantitative", "scale": {"domain": [-0.09, 2.5], "nice": false, "zero": false},
             "axis": {"orient": "left", "values": [0,0.1,0.2,0.3,0.4,0.5,0.6,0.7,0.8,0.9,1,1.1,1.2,1.3,1.4,1.5,1.6,1.7,1.8,1.9,2,2.1,2.2,2.3,2.4,2.5], "tickSize": {"condition": {"test": "abs(datum.value*2 - round(datum.value*2)) < 0.001", "value": -8}, "value": -4}, "labelExpr": "datum.value === 0 ? '0' : (abs(datum.value*2 - round(datum.value*2)) < 0.001 ? format(datum.value, '.1f') : '')", "labelPadding": 16, "title": "rᵩϕₛk⁺", "titlePadding": 5, "titleFontStyle": "italic", "titleFontSize": 24}},
       "color": {"field": "s", "type": "nominal", "scale": {"domain": ["No. 1", "No. 2", "No. 3", "No. 4", "No. 2 (less rough)", "No. 2 (more rough)"], "range": ["#0000ff", "#ff8000", "#ff0000", "#000000", "#00f000", "#ff00ff"]},
                 "legend": {"orient": "none", "legendX": 155, "legendY": 31, "direction": "vertical", "title": null, "labelOffset": 4, "rowPadding": 2.2, "symbolSize": 150, "labelLimit": 500, "encode": {"symbols": {"update": {"opacity": {"value": 1}, "strokeWidth": {"value": 0}, "fill": {"signal": "datum.value === 'No. 1' ? '#0000ff' : datum.value === 'No. 2' ? '#ff8000' : datum.value === 'No. 3' ? '#ff0000' : datum.value === 'No. 4' ? '#000000' : datum.value === 'No. 2 (less rough)' ? '#00f000' : '#ff00ff'"}}}}}},
       "shape": {"field": "s", "type": "nominal", "scale": {"domain": ["No. 1", "No. 2", "No. 3", "No. 4", "No. 2 (less rough)", "No. 2 (more rough)"], "range": ["diamond", "circle", "triangle-up", "M-1,-0.75L-0.75,-1L0,-0.25L0.75,-1L1,-0.75L0.25,0L1,0.75L0.75,1L0,0.25L-0.75,1L-1,0.75L-0.25,0Z", "square", "triangle-down"]},
                 "legend": {"orient": "none", "legendX": 155, "legendY": 31, "direction": "vertical", "title": null, "labelOffset": 4, "rowPadding": 2.2, "symbolSize": 150, "labelLimit": 500, "encode": {"symbols": {"update": {"opacity": {"value": 1}, "strokeWidth": {"value": 0}, "fill": {"signal": "datum.value === 'No. 1' ? '#0000ff' : datum.value === 'No. 2' ? '#ff8000' : datum.value === 'No. 3' ? '#ff0000' : datum.value === 'No. 4' ? '#000000' : datum.value === 'No. 2 (less rough)' ? '#00f000' : '#ff00ff'"}}}}}},
       "size": {"field": "s", "type": "nominal", "scale": {"type": "ordinal", "domain": ["No. 1", "No. 2", "No. 3", "No. 4", "No. 2 (less rough)", "No. 2 (more rough)"], "range": [190, 130, 200, 110, 110, 200]}, "legend": null}
     }},
    {"data": {"name": "exp"}, "mark": {"type": "point", "opacity": 0},
     "encoding": {
       "x": {"field": "dr", "type": "quantitative", "scale": {"domain": [-100, 100], "nice": false, "zero": false},
             "axis": {"orient": "top", "values": [-100,-95,-90,-85,-80,-75,-70,-65,-60,-55,-50,-45,-40,-35,-30,-25,-20,-15,-10,-5,0,5,10,15,20,25,30,35,40,45,50,55,60,65,70,75,80,85,90,95,100], "tickSize": {"condition": {"test": "datum.value % 50 === 0", "value": -8}, "value": -4}, "labels": false, "title": null}},
       "y": {"field": "r", "type": "quantitative", "scale": {"domain": [-0.09, 2.5], "nice": false, "zero": false},
             "axis": {"orient": "right", "values": [0,0.1,0.2,0.3,0.4,0.5,0.6,0.7,0.8,0.9,1,1.1,1.2,1.3,1.4,1.5,1.6,1.7,1.8,1.9,2,2.1,2.2,2.3,2.4,2.5], "tickSize": {"condition": {"test": "abs(datum.value*2 - round(datum.value*2)) < 0.001", "value": -8}, "value": -4}, "labels": false, "title": null}}
     }}
  ]
}
]
}
